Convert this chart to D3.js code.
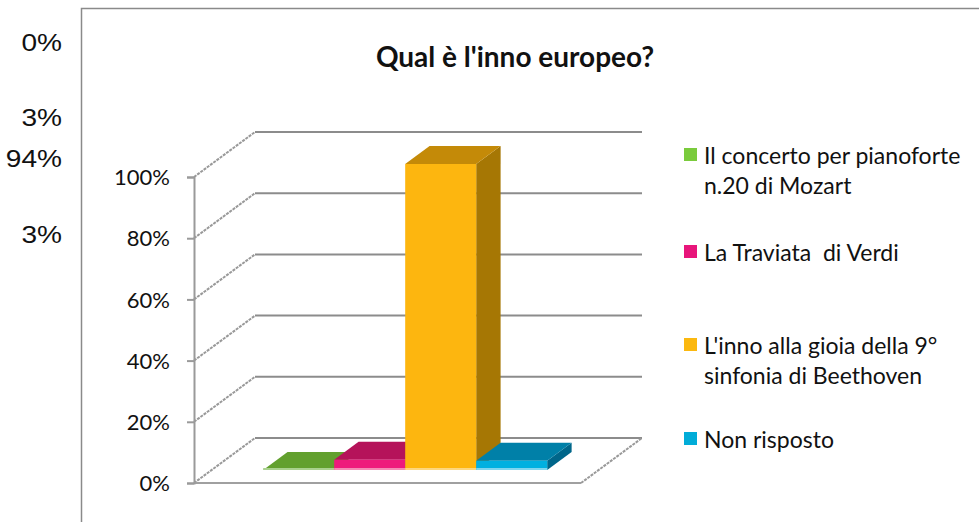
<!DOCTYPE html>
<html>
<head>
<meta charset="utf-8">
<script src="https://cdn.jsdelivr.net/npm/d3@7"></script>
<style>
  body { margin: 0; background: #fff; }
  svg { display: block; }
</style>
</head>
<body>
<svg id="chart" width="979" height="522"></svg>
<script>
// data
let categories = ['Il concerto per pianoforte n.20 di Mozart', 'La Traviata  di Verdi',
  "L'inno alla gioia della 9° sinfonia di Beethoven", 'Non risposto'];
let values = [0, 3.3, 100, 3];
let cellLabels = ['0%', '3%', '94%', '3%'];
let yTicks = [0, 20, 40, 60, 80, 100];
let legendLines = [['Il concerto per pianoforte', 'n.20 di Mozart'], ['La Traviata  di Verdi'],
  ["L'inno alla gioia della 9°", 'sinfonia di Beethoven'], ['Non risposto']];

// colours: front, top, side, light bottom edge, legend
let fronts = ['#6aab33', '#ee1a7c', '#fdb60f', '#01b0e0'];
let tops = ['#62a02e', '#b5135a', '#c48a08', '#0080a8'];
let sides = ['#4f8424', '#8f0f48', '#a67704', '#00668a'];
let edges = ['#a9d18e', '#f48ab5', '#fdd77e', '#80d6ef'];
let swatches = ['#7acb3c', '#e8157b', '#fbb80f', '#01acd8'];

let svg = d3.select('#chart');

// oblique 3d: depth z in [0,1] shifts right and up
let DX = 61, DY = 45;
let x = d3.scaleBand().domain(categories).range([194, 581]).paddingInner(0).paddingOuter(0.725);
let y = d3.scaleLinear().domain([0, 100]).range([483, 177]);
let px = (xv, z) => xv + z * DX;
let py = (yv, z) => yv - z * DY;
let pt = (xv, yv, z) => [px(xv, z), py(yv, z)];

// left spreadsheet cells
let cellY = [51, 126, 167, 243];
svg.selectAll('.cell').data(cellLabels).join('text')
  .attr('x', 62).attr('y', (d, i) => cellY[i])
  .attr('text-anchor', 'end')
  .style('font-family', 'Liberation Sans, Arial, sans-serif')
  .style('font-size', '24px').attr('fill', '#111')
  .attr('transform', 'translate(62,0) scale(1.17,1) translate(-62,0)')
  .text(d => d);

// chart frame
svg.append('path').attr('d', 'M81.5,522 V8.5 H979')
  .attr('fill', 'none').attr('stroke', '#8a8a8a').attr('stroke-width', 1.5);

// title
svg.append('text').attr('x', 515).attr('y', 67).attr('text-anchor', 'middle')
  .style('font-family', 'Lato, sans-serif').style('font-weight', 'bold').style('font-size', '28px')
  .attr('fill', '#111').text("Qual è l'inno europeo?");

// back wall gridlines
svg.selectAll('.grid').data(yTicks).join('line')
  .attr('x1', px(194, 1)).attr('x2', px(581, 1))
  .attr('y1', d => py(y(d), 1)).attr('y2', d => py(y(d), 1))
  .attr('stroke', '#8c8c8c').attr('stroke-width', 2);

// side wall diagonals
svg.selectAll('.diag').data(yTicks).join('line')
  .attr('x1', 194).attr('y1', d => y(d))
  .attr('x2', px(194, 1)).attr('y2', d => py(y(d), 1))
  .attr('stroke', '#999').attr('stroke-width', 2).attr('stroke-dasharray', '3,1');

// floor front and right edge
svg.append('line').attr('x1', 194).attr('x2', 581).attr('y1', y(0)).attr('y2', y(0))
  .attr('stroke', '#a0a0a0').attr('stroke-width', 2);
svg.append('line').attr('x1', 581).attr('y1', y(0)).attr('x2', px(581, 1)).attr('y2', py(y(0), 1))
  .attr('stroke', '#999').attr('stroke-width', 2).attr('stroke-dasharray', '3,1');

// value axis
let yAxis = d3.axisLeft(y).tickValues(yTicks).tickFormat(d => d + '%').tickSize(7).tickPadding(17);
let ax = svg.append('g').attr('transform', 'translate(194,0)').call(yAxis);
ax.select('.domain').attr('stroke', '#9a9a9a').attr('stroke-width', 2);
ax.selectAll('.tick line').attr('stroke', '#9a9a9a').attr('stroke-width', 2);
ax.selectAll('.tick text').style('font-family', 'Lato, sans-serif').style('font-size', '22px')
  .attr('fill', '#111').attr('dy', '0.35em');

// bars
let zf = 0.29, zb = 0.69;
let poly = ps => 'M' + ps.map(p => p.join(',')).join('L') + 'Z';
let bars = svg.append('g');
categories.forEach((c, i) => {
  let a = x(c), b = x(c) + x.bandwidth();
  let h = y(values[i]), b0 = y(0);
  let g = bars.append('g');
  g.append('path').attr('d', poly([pt(b, b0, zf), pt(b, h, zf), pt(b, h, zb), pt(b, b0, zb)]))
    .attr('fill', sides[i]);
  g.append('path').attr('d', poly([pt(a, h, zf), pt(b, h, zf), pt(b, h, zb), pt(a, h, zb)]))
    .attr('fill', tops[i]);
  g.append('path').attr('d', poly([pt(a, b0, zf), pt(b, b0, zf), pt(b, h, zf), pt(a, h, zf)]))
    .attr('fill', fronts[i]);
  g.append('line').attr('x1', px(a, zf)).attr('x2', px(b, zf))
    .attr('y1', py(b0, zf) - 1).attr('y2', py(b0, zf) - 1)
    .attr('stroke', edges[i]).attr('stroke-width', 2);
});

// legend
let legY = [148, 245, 338, 432];
let leg = svg.selectAll('.leg').data(legendLines).join('g')
  .attr('transform', (d, i) => `translate(684,${legY[i]})`);
leg.append('rect').attr('width', 13).attr('height', 13).attr('fill', (d, i) => swatches[i]);
leg.selectAll('text').data(d => d).join('text')
  .attr('x', 20).attr('y', (d, j) => 16 + j * 30)
  .style('font-family', 'Lato, sans-serif').style('font-size', '23px').attr('fill', '#111')
  .style('white-space', 'pre')
  .text(d => d);
</script>
</body>
</html>
